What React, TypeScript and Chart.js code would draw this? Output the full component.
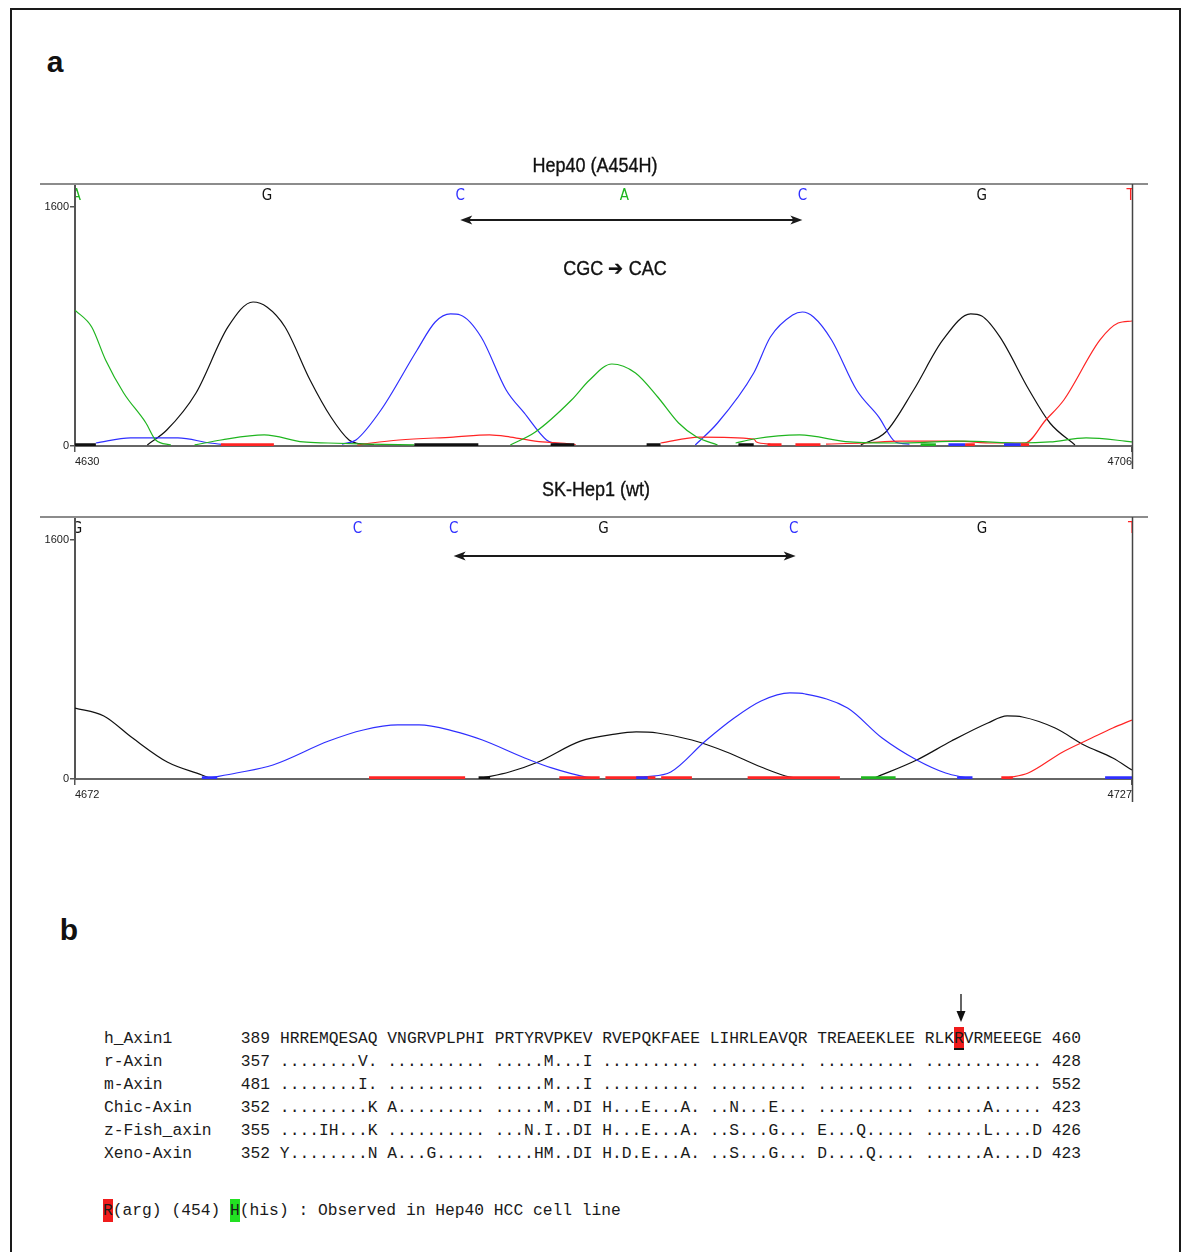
import React, { useEffect, useRef } from 'react';
import { Chart, registerables } from 'chart.js';

Chart.register(...registerables);

type Pt = [number, number];
type Seg = Pt[];
type Range = [number, number];

// ---------- Panel a, top trace: Hep40 (A454H), scan 4630–4706 ----------
const TOP_X_TICKS = [4630, 4706];
const Y_TICKS = [0, 1600];
const Y_MAX = 1754;

const TOP_A: Seg[] = [
  [[4630, 910], [4631.2, 797], [4632.2, 576], [4633.5, 355], [4635.1, 154], [4635.8, 40], [4636.9, 7]],
  [[4638.6, 7], [4640.5, 40], [4643.6, 74], [4646.4, 27], [4648.2, 20], [4651.0, 13], [4654.4, 7]],
  [[4661.3, 7], [4663.1, 94], [4665.7, 308], [4667.0, 442], [4668.6, 549], [4670.3, 489], [4671.9, 328], [4673.4, 154], [4674.7, 60], [4676.2, 7]],
  [[4677.5, 20], [4678.8, 47], [4682.1, 74], [4685.7, 27], [4689.0, 20], [4693.9, 33], [4698.0, 20], [4700.1, 27], [4702.7, 54], [4705.5, 33], [4706, 27]],
];
const TOP_C: Seg[] = [
  [[4631.5, 20], [4634.0, 54], [4637.4, 54], [4639.7, 20], [4641.0, 7]],
  [[4649.2, 13], [4650.2, 40], [4652.0, 241], [4654.6, 643], [4655.9, 830], [4657.0, 884], [4657.7, 877], [4659.2, 730], [4661.0, 375], [4662.3, 221], [4663.9, 40], [4664.4, 20], [4665.5, 7]],
  [[4674.6, 7], [4676.2, 154], [4678.8, 489], [4680.0, 730], [4681.6, 877], [4682.3, 897], [4683.1, 864], [4684.4, 710], [4686.2, 375], [4687.8, 194], [4689.0, 27], [4690.0, 13]],
];
const TOP_G: Seg[] = [
  [[4635.2, 7], [4636.6, 107], [4638.7, 355], [4641.0, 797], [4642.8, 964], [4643.8, 931], [4645.1, 797], [4646.9, 442], [4648.4, 194], [4649.7, 40], [4650.2, 20], [4651.5, 10]],
  [[4686.5, 7], [4688.3, 94], [4690.3, 375], [4692.4, 710], [4694.4, 884], [4695.2, 870], [4696.5, 730], [4698.6, 375], [4700.1, 154], [4701.9, 7]],
];
const TOP_T: Seg[] = [
  [[4650.3, 7], [4651.3, 20], [4653.3, 40], [4657.2, 60], [4659.8, 74], [4661.3, 60], [4663.6, 27], [4664.9, 20], [4666.0, 10]],
  [[4672.1, 20], [4674.9, 60], [4678.8, 47], [4679.0, 27], [4680.0, 13]],
  [[4684.0, 13], [4686.7, 20], [4689.3, 33], [4693.4, 33], [4696.0, 20], [4698.3, 20], [4699.8, 174], [4701.1, 308], [4703.7, 710], [4705.0, 823], [4706, 837]],
];
const TOP_MARKS_A: Range[] = [[4690.8, 4691.9]];
const TOP_MARKS_C: Range[] = [[4692.8, 4694.0], [4696.8, 4698.0]];
const TOP_MARKS_G: Range[] = [[4630, 4631.5], [4654.4, 4659.0], [4664.2, 4665.9], [4671.1, 4672.1], [4677.7, 4678.8]];
const TOP_MARKS_T: Range[] = [[4640.5, 4644.3], [4679.8, 4680.8], [4681.8, 4683.6], [4694.0, 4694.7], [4698.0, 4698.6]];
const TOP_BASES = ['A', 'G', 'C', 'A', 'C', 'G', 'T'];
const TOP_BASE_POS = [4630.1, 4643.8, 4657.7, 4669.5, 4682.3, 4695.2, 4705.9];
const TOP_ARROW: Range = [4657.7, 4682.3];

// ---------- Panel a, bottom trace: SK-Hep1 (wt), scan 4672–4727 ----------
const BOT_X_TICKS = [4672, 4727];
const BOT_A: Seg[] = [];
const BOT_C: Seg[] = [
  [[4679.0, 7], [4680.4, 40], [4682.3, 94], [4685.2, 254], [4687.0, 328], [4688.8, 362], [4689.9, 362], [4691.7, 321], [4693.2, 261], [4695.4, 141], [4696.8, 74], [4698.6, 13], [4699.0, 7]],
  [[4701.6, 13], [4703.0, 47], [4704.8, 254], [4706.3, 408], [4707.7, 522], [4709.2, 576], [4710.0, 569], [4712.2, 475], [4714.0, 274], [4715.8, 127], [4717.3, 40], [4718.4, 7]],
];
const BOT_G: Seg[] = [
  [[4672, 475], [4673.5, 422], [4675.0, 274], [4676.8, 114], [4678.6, 27], [4679.0, 7]],
  [[4693.2, 7], [4694.6, 47], [4696.1, 114], [4698.3, 254], [4700.1, 301], [4701.2, 315], [4702.3, 308], [4704.1, 261], [4705.9, 181], [4707.7, 80], [4709.2, 13], [4709.8, 7]],
  [[4713.6, 7], [4715.8, 127], [4717.6, 254], [4719.5, 375], [4720.5, 422], [4721.3, 415], [4723.0, 341], [4724.5, 228], [4726.0, 141], [4727, 60]],
];
const BOT_T: Seg[] = [
  [[4720.5, 7], [4721.6, 40], [4723.4, 181], [4724.9, 274], [4726.0, 341], [4727, 395]],
];
const BOT_MARKS_A: Range[] = [[4712.9, 4714.7]];
const BOT_MARKS_C: Range[] = [[4678.6, 4679.4], [4701.2, 4701.8], [4717.9, 4718.7], [4725.6, 4727]];
const BOT_MARKS_G: Range[] = [[4693.0, 4693.6]];
const BOT_MARKS_T: Range[] = [[4687.3, 4692.3], [4697.2, 4699.3], [4699.6, 4702.2], [4702.5, 4704.1], [4707.0, 4711.8], [4720.2, 4720.8]];
const BOT_BASES = ['G', 'C', 'C', 'G', 'C', 'G', 'T'];
const BOT_BASE_POS = [4672.1, 4686.7, 4691.7, 4699.5, 4709.4, 4719.2, 4727];
const BOT_ARROW: Range = [4691.7, 4709.5];

// ---------- Panel b, alignment ----------
const ALIGN_NAMES = ['h_Axin1', 'r-Axin', 'm-Axin', 'Chic-Axin', 'z-Fish_axin', 'Xeno-Axin'];
const ALIGN_START = [389, 357, 481, 352, 355, 352];
const ALIGN_END = [460, 428, 552, 423, 426, 423];
const ALIGN_SEQS = [
  'HRREMQESAQ VNGRVPLPHI PRTYRVPKEV RVEPQKFAEE LIHRLEAVQR TREAEEKLEE RLKRVRMEEEGE',
  '........V. .......... .....M...I .......... .......... .......... ............',
  '........I. .......... .....M...I .......... .......... .......... ............',
  '.........K A......... .....M..DI H...E...A. ..N...E... .......... ......A.....',
  '....IH...K .......... ...N.I..DI H...E...A. ..S...G... E...Q..... ......L....D',
  'Y........N A...G..... ....HM..DI H.D.E...A. ..S...G... D....Q.... ......A....D',
];
const MUTATED_INDEX = 69; // index of R(454) within the human sequence string

const COLORS: Record<string, string> = { A: '#1fb51f', C: '#2f2fff', G: '#111111', T: '#ff2424' };
const SANS = "'Liberation Sans', Arial, sans-serif";
const MONO = "'Liberation Mono', 'Courier New', monospace";
const MARK_Y = 8;

const segData = (segs: Seg[]) =>
  segs.flatMap((s, i) => {
    const pts = s.map(([x, y]) => ({ x, y }));
    return i === 0 ? pts : [{ x: s[0][0], y: null as any }, ...pts];
  });
const markData = (marks: Range[]) =>
  marks.flatMap(([a, b], i) => [
    ...(i ? [{ x: a, y: null as any }] : []),
    { x: a, y: MARK_Y },
    { x: b, y: MARK_Y },
  ]);

type ChromProps = {
  left: number;
  top: number;
  xTicks: number[];
  traces: Record<string, Seg[]>;
  marks: Record<string, Range[]>;
  bases: string[];
  basePos: number[];
  arrow: Range;
  arrowOffset: number;
};

function Chromatogram(props: ChromProps) {
  const ref = useRef<HTMLCanvasElement | null>(null);
  useEffect(() => {
    if (!ref.current) return;
    const { xTicks, traces, marks, bases, basePos, arrow, arrowOffset } = props;
    const datasets: any[] = [];
    ['A', 'C', 'T', 'G'].forEach((b) => {
      if (marks[b] && marks[b].length)
        datasets.push({ data: markData(marks[b]), borderColor: COLORS[b], borderWidth: 3, spanGaps: false, cubicInterpolationMode: 'default', tension: 0 });
    });
    ['A', 'T', 'C', 'G'].forEach((b) => {
      if (traces[b] && traces[b].length)
        datasets.push({ data: segData(traces[b]), borderColor: COLORS[b], borderWidth: 1.2, spanGaps: false });
    });

    const annot = {
      id: 'annot',
      afterDraw(chart: any) {
        const { ctx, chartArea, width, height } = chart;
        const xs = chart.scales.x;
        ctx.save();
        // title separator
        ctx.strokeStyle = '#8c8c8c';
        ctx.lineWidth = 2;
        ctx.beginPath();
        ctx.moveTo(0, chartArea.top);
        ctx.lineTo(width, chartArea.top);
        ctx.stroke();
        // right border
        ctx.strokeStyle = '#444';
        ctx.lineWidth = 1.5;
        ctx.beginPath();
        ctx.moveTo(chartArea.right + 0.5, chartArea.top);
        ctx.lineTo(chartArea.right + 0.5, height - 6);
        ctx.stroke();
        // base calls
        ctx.save();
        ctx.beginPath();
        ctx.rect(chartArea.left + 1, chartArea.top, chartArea.right - chartArea.left - 1, chartArea.bottom - chartArea.top);
        ctx.clip();
        ctx.font = "15px 'Liberation Sans Narrow', 'DejaVu Sans Condensed', 'DejaVu Sans', sans-serif";
        ctx.textAlign = 'center';
        ctx.textBaseline = 'middle';
        bases.forEach((b, i) => {
          ctx.fillStyle = COLORS[b];
          ctx.fillText(b, xs.getPixelForValue(basePos[i]), chartArea.top + 12);
        });
        ctx.restore();
        // double arrow
        const x1 = xs.getPixelForValue(arrow[0]);
        const x2 = xs.getPixelForValue(arrow[1]);
        const y = chartArea.top + arrowOffset;
        ctx.strokeStyle = '#1a1a1a';
        ctx.fillStyle = '#1a1a1a';
        ctx.lineWidth = 1.8;
        ctx.beginPath();
        ctx.moveTo(x1 + 6, y);
        ctx.lineTo(x2 - 6, y);
        ctx.stroke();
        ctx.beginPath();
        ctx.moveTo(x1, y);
        ctx.lineTo(x1 + 12, y - 4.5);
        ctx.lineTo(x1 + 9, y);
        ctx.lineTo(x1 + 12, y + 4.5);
        ctx.closePath();
        ctx.fill();
        ctx.beginPath();
        ctx.moveTo(x2, y);
        ctx.lineTo(x2 - 12, y - 4.5);
        ctx.lineTo(x2 - 9, y);
        ctx.lineTo(x2 - 12, y + 4.5);
        ctx.closePath();
        ctx.fill();
        ctx.restore();
      },
    };

    const chart = new Chart(ref.current, {
      type: 'line',
      data: { datasets },
      options: {
        animation: false,
        responsive: false,
        devicePixelRatio: 1,
        events: [],
        layout: { padding: { top: 44, right: 16, left: 0, bottom: 0 } },
        plugins: { legend: { display: false }, tooltip: { enabled: false } },
        elements: {
          point: { radius: 0 },
          line: { cubicInterpolationMode: 'monotone', borderWidth: 1.2 },
        },
        scales: {
          x: {
            type: 'linear',
            min: xTicks[0],
            max: xTicks[xTicks.length - 1],
            afterBuildTicks: (s: any) => {
              s.ticks = xTicks.map((v) => ({ value: v }));
            },
            afterFit: (s: any) => {
              s.height = 29;
            },
            ticks: {
              align: 'inner',
              maxRotation: 0,
              autoSkip: false,
              padding: 3,
              color: '#222',
              font: { family: SANS, size: 11 },
              callback: (v: any) => String(v),
            },
            grid: { drawOnChartArea: false, drawTicks: true, tickLength: 6, color: '#555', lineWidth: 1.5 },
            border: { display: true, color: '#666', width: 2 },
          },
          y: {
            type: 'linear',
            min: 0,
            max: Y_MAX,
            afterBuildTicks: (s: any) => {
              s.ticks = Y_TICKS.map((v) => ({ value: v }));
            },
            afterFit: (s: any) => {
              s.width = 35;
            },
            ticks: {
              padding: 1,
              color: '#222',
              font: { family: SANS, size: 11 },
              callback: (v: any) => String(v),
            },
            grid: { drawOnChartArea: false, drawTicks: true, tickLength: 5, color: '#555', lineWidth: 1.5 },
            border: { display: true, color: '#555', width: 2 },
          },
        },
      } as any,
      plugins: [annot],
    });
    return () => chart.destroy();
  }, []);
  return (
    <canvas
      ref={ref}
      width={1108}
      height={335}
      style={{ position: 'absolute', left: props.left, top: props.top, width: 1108, height: 335 }}
    />
  );
}

const centered = (x: number, y: number, extra: React.CSSProperties = {}): React.CSSProperties => ({
  position: 'absolute',
  left: x - 8,
  top: y - 8,
  transform: 'translate(-50%, -50%) scaleX(0.9)',
  whiteSpace: 'nowrap',
  lineHeight: 1,
  color: '#111',
  fontFamily: SANS,
  fontSize: 20,
  WebkitTextStroke: '0.35px #111',
  ...extra,
});

export default function App() {
  const lines = ALIGN_NAMES.map((n, i) => ({
    head: n.padEnd(14, ' ') + String(ALIGN_START[i]) + ' ',
    seq: ALIGN_SEQS[i],
    tail: ' ' + String(ALIGN_END[i]),
  }));
  const h = lines[0];
  return (
    <div
      style={{
        position: 'fixed',
        left: 8,
        top: 8,
        width: 1174,
        height: 1244,
        overflow: 'hidden',
        background: '#fff',
      }}
    >
      <div
        style={{
          position: 'absolute',
          left: 2,
          top: 0,
          width: 1171,
          height: 1260,
          border: '2px solid #1a1a1a',
          borderBottom: 'none',
          boxSizing: 'border-box',
        }}
      />
      <div style={centered(55, 62, { fontSize: 30, fontWeight: 'bold', transform: 'translate(-50%, -50%)', WebkitTextStroke: '0px' })}>a</div>
      <div style={centered(69, 930, { fontSize: 30, fontWeight: 'bold', transform: 'translate(-50%, -50%)', WebkitTextStroke: '0px' })}>b</div>

      <Chromatogram
        left={32}
        top={132}
        xTicks={TOP_X_TICKS}
        traces={{ A: TOP_A, C: TOP_C, G: TOP_G, T: TOP_T }}
        marks={{ A: TOP_MARKS_A, C: TOP_MARKS_C, G: TOP_MARKS_G, T: TOP_MARKS_T }}
        bases={TOP_BASES}
        basePos={TOP_BASE_POS}
        arrow={TOP_ARROW}
        arrowOffset={36}
      />
      <Chromatogram
        left={32}
        top={465}
        xTicks={BOT_X_TICKS}
        traces={{ A: BOT_A, C: BOT_C, G: BOT_G, T: BOT_T }}
        marks={{ A: BOT_MARKS_A, C: BOT_MARKS_C, G: BOT_MARKS_G, T: BOT_MARKS_T }}
        bases={BOT_BASES}
        basePos={BOT_BASE_POS}
        arrow={BOT_ARROW}
        arrowOffset={39}
      />

      <div style={centered(595, 165)}>Hep40 (A454H)</div>
      <div style={centered(615, 268)}>CGC ➔ CAC</div>
      <div style={centered(596, 489)}>SK-Hep1 (wt)</div>

      <svg style={{ position: 'absolute', left: 961 - 8 - 6, top: 994 - 8 }} width={12} height={30}>
        <line x1={6} y1={0} x2={6} y2={20} stroke="#111" strokeWidth={1.3} />
        <polygon points="1.5,17 10.5,17 6,28" fill="#111" />
      </svg>

      <pre
        style={{
          position: 'absolute',
          left: 104 - 8,
          top: 1027 - 8,
          margin: 0,
          fontFamily: MONO,
          fontSize: 16.3,
          lineHeight: '23px',
          color: '#1a1a1a',
        }}
      >
        {h.head}
        {h.seq.slice(0, MUTATED_INDEX)}
        <span style={{ background: '#f01c1c', boxShadow: 'inset 0 -2px 0 #111', padding: '2px 0' }}>{h.seq[MUTATED_INDEX]}</span>
        {h.seq.slice(MUTATED_INDEX + 1)}
        {h.tail}
        {'\n'}
        {lines
          .slice(1)
          .map((l) => l.head + l.seq + l.tail)
          .join('\n')}
      </pre>

      <div
        style={{
          position: 'absolute',
          left: 103 - 8,
          top: 1199 - 8,
          fontFamily: MONO,
          fontSize: 16.3,
          lineHeight: '23px',
          whiteSpace: 'pre',
          color: '#1a1a1a',
        }}
      >
        <span style={{ background: '#f01c1c', padding: '2px 0' }}>R</span>(arg) (454) <span style={{ background: '#22e022', padding: '2px 0' }}>H</span>(his) : Observed in Hep40 HCC cell line
      </div>
    </div>
  );
}
